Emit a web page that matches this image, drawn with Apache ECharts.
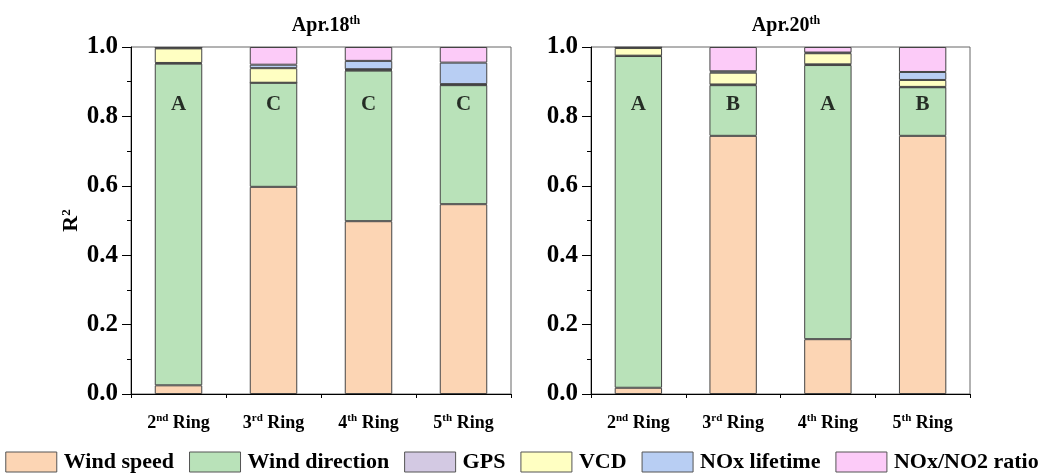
<!DOCTYPE html>
<html><head><meta charset="utf-8">
<script src="https://cdn.jsdelivr.net/npm/echarts@6/dist/echarts.min.js"></script>
<style>html,body{margin:0;padding:0;background:#fff}#c{width:1044px;height:475px}</style>
</head><body><div id="c"></div>
<script>
const categories = ['2nd Ring', '3rd Ring', '4th Ring', '5th Ring'];
const seriesNames = ['Wind speed', 'Wind direction', 'GPS', 'VCD', 'NOx lifetime', 'NOx/NO2 ratio'];
const colors = ['#FCD5B4', '#B9E2B9', '#D3C9E3', '#FFFFC2', '#B8CEF3', '#FCCBF8'];
const yTicks = [0, 0.2, 0.4, 0.6, 0.8, 1.0];

// Apr.18th
const windSpeed18 = [0.025, 0.597, 0.498, 0.547];
const windDir18   = [0.927, 0.300, 0.434, 0.343];
const gps18       = [0.002, 0.000, 0.002, 0.001];
const vcd18       = [0.042, 0.042, 0.002, 0.002];
const lifetime18  = [0.002, 0.010, 0.024, 0.062];
const ratio18     = [0.000, 0.051, 0.040, 0.045];
const letters18   = ['A', 'C', 'C', 'C'];

// Apr.20th
const windSpeed20 = [0.018, 0.744, 0.158, 0.744];
const windDir20   = [0.956, 0.146, 0.790, 0.140];
const gps20       = [0.001, 0.002, 0.002, 0.001];
const vcd20       = [0.022, 0.034, 0.032, 0.020];
const lifetime20  = [0.002, 0.004, 0.002, 0.023];
const ratio20     = [0.000, 0.070, 0.016, 0.072];
const letters20   = ['A', 'B', 'A', 'B'];
const letterY = 0.835;

const FONT = '"Liberation Serif", "Times New Roman", serif';
const sets = [
  [windSpeed18, windDir18, gps18, vcd18, lifetime18, ratio18],
  [windSpeed20, windDir20, gps20, vcd20, lifetime20, ratio20]
];
const letterSets = [letters18, letters20];

const chart = echarts.init(document.getElementById('c'));
const supRich = {
  s: { fontSize: 12, fontWeight: 'bold', fontFamily: FONT, color: '#000', padding: [0, 0, 10, 0] },
};
function catFmt(v) { return v.replace(/^(\d)(\w\w) /, '$1{s|$2} '); }

const grids = [
  { left: 131, top: 47, width: 380, height: 347 },
  { left: 591, top: 47, width: 379, height: 347 }
].map(g => Object.assign(g, { show: true, borderColor: '#666', borderWidth: 1, containLabel: false }));

const xAxis = [], yAxis = [], series = [];
[0, 1].forEach(gi => {
  xAxis.push({
    type: 'category', gridIndex: gi, data: categories, position: 'bottom',
    axisLine: { lineStyle: { color: '#000', width: 1 } },
    axisTick: { alignWithLabel: true, interval: 0, length: 7, lineStyle: { color: '#000' } },
    axisLabel: {
      interval: 0, formatter: catFmt, margin: 19, color: '#000',
      fontFamily: FONT, fontWeight: 'bold', fontSize: 18,
      rich: { s: { fontSize: 11, fontWeight: 'bold', fontFamily: FONT, color: '#000', padding: [0, 0, 9, 0] } }
    },
    splitLine: { show: false }
  });
  xAxis.push({
    type: 'category', gridIndex: gi, data: categories, position: 'bottom',
    axisLine: { show: false },
    axisTick: { show: true, interval: 0, length: 4, lineStyle: { color: '#000' } },
    axisLabel: { show: false }, splitLine: { show: false }
  });
  yAxis.push({
    type: 'value', gridIndex: gi, min: 0, max: 1, interval: 0.2,
    axisLine: { show: true, lineStyle: { color: '#000', width: 1 } },
    axisTick: { show: true, length: 9, lineStyle: { color: '#000' } },
    minorTick: { show: true, splitNumber: 2, length: 4, lineStyle: { color: '#000' } },
    splitLine: { show: false }, minorSplitLine: { show: false },
    axisLabel: {
      formatter: v => v.toFixed(1), color: '#000', margin: 13,
      fontFamily: FONT, fontWeight: 'bold', fontSize: 25
    },
    name: gi === 0 ? 'R{s|2}' : '', nameLocation: 'middle', nameGap: 48, nameRotate: 90,
    nameTextStyle: {
      fontFamily: FONT, fontWeight: 'bold', fontSize: 22, color: '#000',
      rich: { s: { fontSize: 13, fontWeight: 'bold', fontFamily: FONT, color: '#000', padding: [0, 0, 10, 0] } }
    }
  });
  sets[gi].forEach((arr, si) => {
    series.push({
      name: seriesNames[si], type: 'bar', stack: 'g' + gi,
      xAxisIndex: gi * 2, yAxisIndex: gi, barWidth: '50%',
      data: arr,
      itemStyle: { color: colors[si], borderColor: '#444', borderWidth: 1 },
      emphasis: { disabled: true }
    });
  });
  series.push({
    type: 'scatter', xAxisIndex: gi * 2, yAxisIndex: gi, symbolSize: 0,
    data: letterSets[gi].map((t, i) => [categories[i], letterY, t]),
    label: {
      show: true, position: 'inside', formatter: p => p.data[2],
      fontFamily: FONT, fontWeight: 'bold', fontSize: 21, color: '#000',
      textBorderWidth: 0
    },
    silent: true, z: 10
  });
});

chart.setOption({
  animation: false,
  color: colors,
  title: [
    { text: 'Apr.18{s|th}', left: 321, top: 10, textAlign: 'center',
      textStyle: { fontFamily: FONT, fontWeight: 'bold', fontSize: 20, color: '#000', rich: supRich } },
    { text: 'Apr.20{s|th}', left: 781, top: 10, textAlign: 'center',
      textStyle: { fontFamily: FONT, fontWeight: 'bold', fontSize: 20, color: '#000', rich: supRich } }
  ],
  legend: {
    data: seriesNames, top: 446, left: 'center',
    icon: 'rect', itemWidth: 51, itemHeight: 20, itemGap: 15,
    textStyle: { fontFamily: FONT, fontWeight: 'bold', fontSize: 22, color: '#000', padding: [0, 0, 0, 2] },
    itemStyle: { borderColor: '#555', borderWidth: 1 }
  },
  grid: grids,
  xAxis: xAxis,
  yAxis: yAxis,
  series: series
});
</script></body></html>
